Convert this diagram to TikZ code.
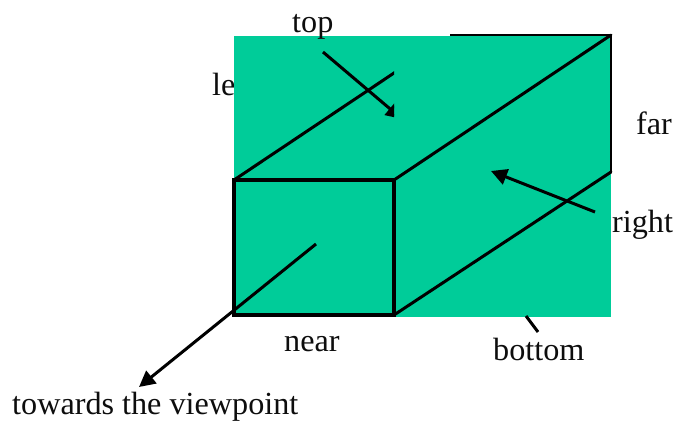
\documentclass[tikz,border=0pt]{standalone}
\usepackage{fontspec}
\setmainfont{Liberation Serif}
\usetikzlibrary{arrows.meta}
\definecolor{facegreen}{HTML}{00CC99}
\tikzset{
  lbl/.style={inner sep=0pt,anchor=base west,font=\fontsize{32.2}{35}\selectfont,text=black!95},
  edge/.style={draw=black,line width=3.4pt,line cap=round,line join=miter},
  thin edge/.style={draw=black,line width=3pt,line cap=round},
  pointer/.style={draw=black,line width=3pt,-{Triangle[length=16pt,width=16pt]}}
}
\begin{document}
\begin{tikzpicture}[x=1pt,y=-1pt]
\useasboundingbox (0,0) rectangle (678,426);
\node[lbl] (left) at (212,95) {le};
\fill[facegreen] (234,36) rectangle (611,316.5);
% named corners
\coordinate (nearTL) at (234,180);
\coordinate (nearTR) at (394,180);
\coordinate (nearBL) at (234,315);
\coordinate (nearBR) at (394,315);
\coordinate (farTR) at (611,35);
\coordinate (farBR) at (611,172);
\coordinate (farTLvis) at (450,35);
% depth edges and far edges
\begin{scope}
\clip (230,60) rectangle (394,185);
\draw[thin edge] (nearTL) -- (397,71);
\end{scope}
\draw[thin edge] (nearTR) -- (farTR);
\draw[thin edge] (nearBR) -- (farBR);
\draw[draw=black,line width=2.2pt] (farTLvis) -- (farTR);
\draw[draw=black,line width=2.6pt] (farTR) -- (farBR);
% near face
\draw[edge] (nearTL) rectangle (nearBR);
\draw[draw=black,line width=4.2pt] (394,180) -- (394,316);
% pointers
\begin{scope}
\clip (300,30) rectangle (394,130);
\draw[pointer] (323,52) -- (402,119);
\end{scope}
\draw[pointer] (595,212) -- (491,171);
\draw[pointer] (316,244) -- (139,387);
\draw[thin edge,line cap=butt] (526,316) -- (538,332);
% labels
\node[lbl] (top) at (292,32) {top};
\node[lbl] (far) at (636,134) {far};
\node[lbl] (right) at (612,232) {right};
\node[lbl] (near) at (284,351) {near};
\node[lbl] (bottom) at (493,360) {bottom};
\node[lbl] (view) at (12,414) {towards the viewpoint};
\end{tikzpicture}
\end{document}
